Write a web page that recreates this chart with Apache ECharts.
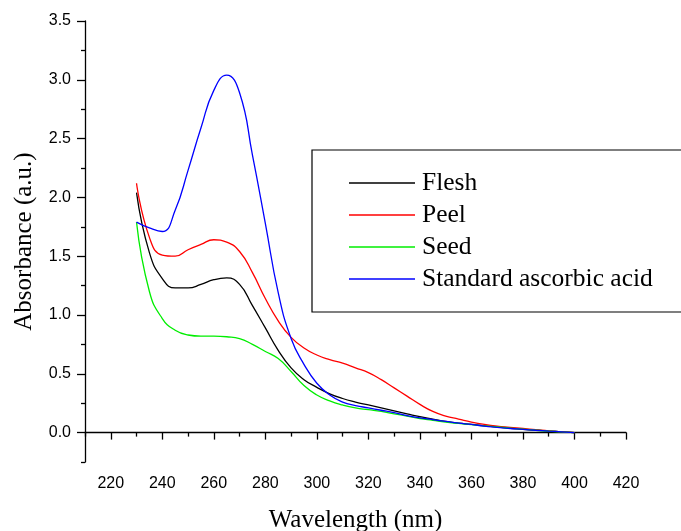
<!DOCTYPE html>
<html>
<head>
<meta charset="utf-8">
<script src="https://cdn.jsdelivr.net/npm/echarts@6/dist/echarts.min.js"></script>
<style>html,body{margin:0;padding:0;background:#fff}#c{width:681px;height:531px}</style>
</head>
<body>
<div id="c"></div>
<script>
var wavelengths = [230,235,240,245,250,255,260,265,270,275,280,285,290,295,300,305,310,315,320,325,330,335,340,345,350,355,360,365,370,375,380,385,390,395,400];
var flesh = [2.04,1.53,1.31,1.23,1.23,1.26,1.30,1.315,1.26,1.08,0.89,0.70,0.55,0.45,0.385,0.33,0.29,0.26,0.235,0.21,0.185,0.16,0.135,0.115,0.095,0.08,0.07,0.058,0.047,0.037,0.028,0.02,0.013,0.006,0.0];
var peel = [2.12,1.66,1.51,1.50,1.555,1.60,1.64,1.62,1.54,1.36,1.14,0.95,0.81,0.72,0.66,0.62,0.59,0.55,0.51,0.45,0.38,0.31,0.24,0.18,0.14,0.115,0.09,0.07,0.055,0.045,0.035,0.025,0.015,0.008,0.0];
var seed = [1.79,1.20,0.97,0.87,0.83,0.82,0.82,0.815,0.80,0.75,0.69,0.63,0.52,0.40,0.32,0.27,0.235,0.21,0.195,0.18,0.16,0.14,0.12,0.105,0.09,0.078,0.067,0.057,0.048,0.038,0.03,0.02,0.013,0.006,0.0];
var ascorbic = [1.79,1.74,1.71,1.89,2.23,2.59,2.91,3.04,2.89,2.36,1.78,1.19,0.80,0.58,0.42,0.32,0.26,0.23,0.21,0.19,0.17,0.145,0.125,0.11,0.095,0.08,0.07,0.055,0.045,0.035,0.028,0.02,0.013,0.007,0.0];
var seriesNames = ['Flesh','Peel','Seed','Standard ascorbic acid'];
var seriesColors = ['#000000','#ff0000','#00ee00','#0000ff'];
var xMajorTicks = [220,240,260,280,300,320,340,360,380,400,420];
var xMinorTicks = [210,230,250,270,290,310,330,350,370,390,410];
var yMajorTicks = [0,0.5,1,1.5,2,2.5,3,3.5];
var yMinorTicks = [-0.25,0.25,0.75,1.25,1.75,2.25,2.75,3.25];

function pairs(ys){ return wavelengths.map(function(x,i){ return [x, ys[i]]; }); }
var allData = [flesh, peel, seed, ascorbic];

var chart = echarts.init(document.getElementById('c'), null, {renderer:'canvas'});
var sansFont = 'Liberation Sans, Arial, sans-serif';
var nameStyle = {fontFamily:'Liberation Serif, Times New Roman, serif', fontSize:25, color:'#000'};
var option = {
  animation:false,
  backgroundColor:'#fff',
  grid:{left:85, top:21, width:541, height:441, containLabel:false, outerBoundsMode:'none'},
  legend:{
    show:true, orient:'vertical', left:312, top:150,
    data:seriesNames,
    icon:'rect', itemWidth:66, itemHeight:1.3, itemGap:4,
    padding:[19,40,19,37],
    borderColor:'#000', borderWidth:1.2, backgroundColor:'#fff',
    textStyle:{fontFamily:'Liberation Serif, Times New Roman, serif', fontSize:25.5, lineHeight:28, color:'#000', padding:[0,0,0,2]}
  },
  xAxis:[{
    type:'value', min:210, max:420, position:'bottom',
    name:'Wavelength (nm)', nameLocation:'middle', nameGap:46, nameTextStyle:nameStyle,
    axisLine:{show:true, lineStyle:{color:'#000', width:1.3}},
    axisTick:{show:true, inside:false, length:7, customValues:xMajorTicks, lineStyle:{color:'#000', width:1.3}},
    axisLabel:{show:true, margin:14, customValues:xMajorTicks, fontFamily:sansFont, fontSize:16, color:'#000'},
    splitLine:{show:false}
  },{
    type:'value', min:210, max:420, position:'bottom', gridIndex:0,
    axisLine:{show:false},
    axisTick:{show:true, inside:false, length:4, customValues:xMinorTicks, lineStyle:{color:'#000', width:1.3}},
    axisLabel:{show:false},
    splitLine:{show:false}
  }],
  yAxis:[{
    type:'value', min:-0.25, max:3.5, position:'left',
    name:'Absorbance (a.u.)', nameLocation:'middle', nameGap:48, nameTextStyle:nameStyle,
    axisLine:{show:true, lineStyle:{color:'#000', width:1.3}},
    axisTick:{show:true, inside:false, length:8, customValues:yMajorTicks, lineStyle:{color:'#000', width:1.3}},
    axisLabel:{show:true, margin:14, customValues:yMajorTicks, fontFamily:sansFont, fontSize:16, color:'#000',
      formatter:function(v){ return v.toFixed(1); }},
    splitLine:{show:false}
  },{
    type:'value', min:-0.25, max:3.5, position:'left', gridIndex:0,
    axisLine:{show:false},
    axisTick:{show:true, inside:false, length:4, customValues:yMinorTicks, lineStyle:{color:'#000', width:1.3}},
    axisLabel:{show:false},
    splitLine:{show:false}
  }],
  series: seriesNames.map(function(n,i){
    return {
      name:n, type:'line', xAxisIndex:0, yAxisIndex:0,
      data:pairs(allData[i]), smooth:0.5, showSymbol:false, symbol:'none',
      lineStyle:{color:seriesColors[i], width:1.3},
      itemStyle:{color:seriesColors[i]},
      z:2+i
    };
  })
};
chart.setOption(option);
</script>
</body>
</html>
